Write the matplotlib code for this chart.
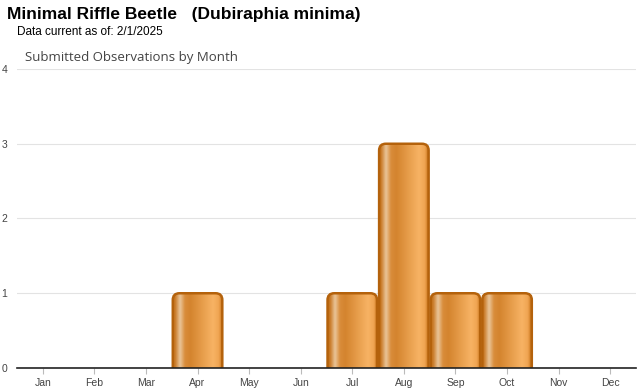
import numpy as np
import matplotlib.pyplot as plt
from matplotlib.patches import FancyBboxPatch
from matplotlib.colors import LinearSegmentedColormap

# data
months = ["Jan", "Feb", "Mar", "Apr", "May", "Jun",
          "Jul", "Aug", "Sep", "Oct", "Nov", "Dec"]
counts = [0, 0, 0, 1, 0, 0, 1, 3, 1, 1, 0, 0]
yticks = [0, 1, 2, 3, 4]

title = "Minimal Riffle Beetle   (Dubiraphia minima)"
subtitle = "Data current as of: 2/1/2025"
chart_title = "Submitted Observations by Month"

plt.rcParams['font.family'] = ['Liberation Sans', 'DejaVu Sans']

fig = plt.figure(figsize=(6.4, 3.9), dpi=100)
ax = fig.add_axes([17/640, 1 - 368/390, (636 - 17)/640, (368 - 69)/390])

# horizontal gradient of the bars
cmap = LinearSegmentedColormap.from_list("bar", [
    (0.00, "#c06c12"), (0.05, "#cc8030"), (0.14, "#eac69a"),
    (0.24, "#d98c3a"), (0.35, "#d4842e"), (0.80, "#f7b364"),
    (0.92, "#f0a552"), (1.00, "#c06a10")])
grad = np.linspace(0, 1, 256).reshape(1, -1)

x = np.arange(len(months))
w = 0.96
for xi, v in zip(x, counts):
    if v <= 0:
        continue
    box = FancyBboxPatch((xi - w/2, -0.3), w, v + 0.3,
                         boxstyle="round,pad=0,rounding_size=0.13",
                         mutation_aspect=0.69, transform=ax.transData,
                         facecolor="none", edgecolor="#b4620c", lw=1.8, zorder=3)
    ax.add_patch(box)
    im = ax.imshow(grad, cmap=cmap, aspect="auto", zorder=2,
                   extent=(xi - w/2, xi + w/2, -0.3, v), interpolation="bicubic")
    im.set_clip_path(box)

ax.set_xlim(-0.5, 11.5)
ax.set_ylim(0, 4)
ax.set_xticks(x)
ax.set_xticklabels(months, fontsize=7.5, color="#444444")
ax.set_yticks(yticks)
ax.set_yticklabels([str(t) for t in yticks], fontsize=7.5, color="#444444")
ax.tick_params(axis="x", length=4, color="#bbbbbb", pad=3)
for t in ax.get_yticklabels():
    t.set_horizontalalignment("center")
ax.tick_params(axis="y", length=0, pad=9)
ax.grid(axis="y", color="#e3e3e3", lw=0.8, zorder=0)
ax.set_axisbelow(True)
for s in ["top", "right", "left"]:
    ax.spines[s].set_visible(False)
ax.spines["bottom"].set_color("#222222")
ax.spines["bottom"].set_linewidth(1.2)
ax.spines["bottom"].set_zorder(4)

fig.text(7/640, 1 - 15/390, title, fontsize=12.5, fontweight="bold",
         va="center", ha="left", color="#000000")
fig.text(17/640, 1 - 32/390, subtitle, fontsize=8.5, va="center",
         ha="left", color="#000000")
fig.text(25/640, 1 - 58/390, chart_title, fontsize=9.5, va="center",
         ha="left", color="#444444", family=["Open Sans", "DejaVu Sans"])

fig.savefig("out.png", dpi=100)
